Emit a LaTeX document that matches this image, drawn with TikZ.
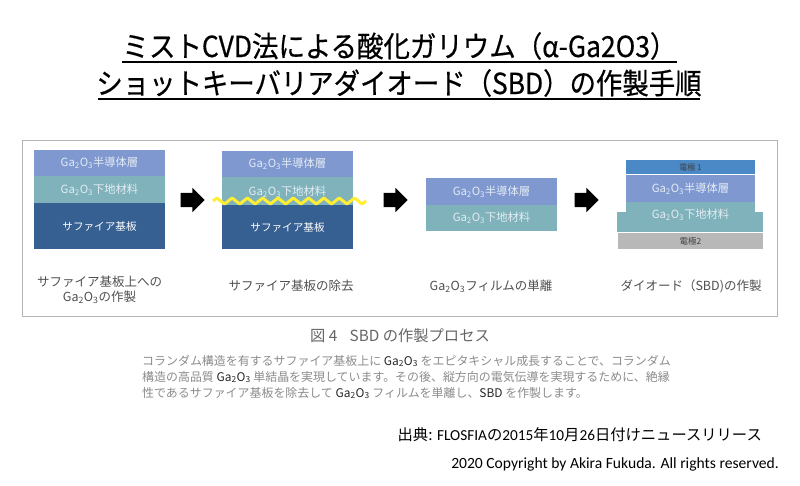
\documentclass[tikz,border=0pt]{standalone}
\usepackage{fontspec}
\setmainfont{Noto Sans CJK JP}
\newfontfamily\latinc{Carlito}
\newfontfamily\titlea[FakeStretch=0.912,FakeBold=0.5]{Noto Sans CJK JP}
\newfontfamily\titleb[FakeStretch=0.91,FakeBold=0.5]{Noto Sans CJK JP}
\usetikzlibrary{shapes.arrows,decorations.pathmorphing}
\definecolor{semic}{HTML}{7F98D0}
\definecolor{basec}{HTML}{7FB2BA}
\definecolor{sapc}{HTML}{365F92}
\definecolor{elaa}{HTML}{4A88C6}
\definecolor{elbb}{HTML}{B8B8B8}
\definecolor{framec}{HTML}{B4B4B4}
\definecolor{labc}{HTML}{E4ECF4}
\definecolor{capc}{HTML}{505050}
\definecolor{zigc}{HTML}{FFEE33}
\newcommand{\gao}{Ga\textsubscript{2}O\textsubscript{3}}
\tikzset{
  layer/.style={anchor=north west,inner sep=0pt,outer sep=0pt,minimum width=131pt,text=labc,font=\fontsize{11.3pt}{13pt}\selectfont},
  semilayer/.style={layer,fill=semic,minimum height=26pt},
  baselayer/.style={layer,fill=basec,minimum height=26pt},
  saplayer/.style={layer,fill=sapc,minimum height=46pt,text=white,font=\fontsize{10.6pt}{13pt}\selectfont},
  blockarrow/.style={single arrow,fill=black,inner xsep=0pt,inner ysep=7pt,minimum width=24pt,minimum height=24pt,single arrow head extend=5pt,single arrow head indent=0pt},
  captext/.style={text=capc,align=center,font=\fontsize{12.5pt}{15pt}\selectfont,inner sep=0pt},
  titletext/.style={anchor=center,inner sep=0pt,text=black},
  underl/.style={line width=1.6pt,black},
  bodytext/.style={anchor=west,inner sep=0pt,text=black!45,font=\fontsize{11.95pt}{13pt}\selectfont},
}
\begin{document}
\begin{tikzpicture}[x=1pt,y=-1pt]
\useasboundingbox (0,0) rectangle (800,486);
\fill[white] (0,0) rectangle (800,486);
% titles
\node[titletext,font=\titlea\fontsize{29pt}{34pt}\selectfont] (t1) at (399.5,46) {ミストCVD法による酸化ガリウム（α-Ga2O3）};
\node[titletext,font=\titleb\fontsize{29pt}{34pt}\selectfont] (t2) at (399,83) {ショットキーバリアダイオード（SBD）の作製手順};
\coordinate (t1a) at (122,62); \coordinate (t1b) at (677,62);
\coordinate (t2a) at (98,99); \coordinate (t2b) at (700,99);
\draw[underl] (t1a) -- (t1b);
\draw[underl] (t2a) -- (t2b);
% frame
\node[draw=framec,line width=1.4pt,minimum width=755pt,minimum height=176pt,anchor=north west,inner sep=0pt] (frame) at (22,140) {};
% stack 1
\node[semilayer] (a1) at (34,150) {\gao 半導体層};
\node[baselayer,minimum height=26.5pt] (a2) at (34,176.5) {\gao 下地材料};
\node[saplayer] (a3) at (34,203) {サファイア基板};
% stack 2
\node[semilayer] (b1) at (222,151) {\gao 半導体層};
\node[baselayer,minimum height=28pt] (b2) at (222,177.5) {\gao 下地材料};
\node[saplayer,minimum height=44pt] (b3) at (222,205) {サファイア基板};
\coordinate (zl) at (213,201);
\coordinate (zr) at (366,201);
\draw[zigc,line width=3pt,line join=round,decorate,decoration={zigzag,segment length=15.3pt,amplitude=3pt}] (zl) -- (zr);
% stack 3
\node[semilayer,minimum height=27pt] (c1) at (426,178) {\gao 半導体層};
\node[baselayer] (c2) at (426,205) {\gao 下地材料};
% stack 4
\node[layer,fill=elaa,minimum width=129pt,minimum height=14pt,text=black!75,font=\fontsize{8pt}{10pt}\selectfont] (d0) at (626,160) {電極 1};
\node[layer,fill=basec,minimum width=146pt,minimum height=20pt] (d2w) at (617,212) {};
\node[semilayer,minimum width=129pt,minimum height=27pt] (d1) at (626,175.5) {\gao 半導体層};
\node[baselayer,minimum width=129pt,minimum height=24pt] (d2) at (626,202.5) {\gao 下地材料};
\node[layer,fill=elbb,minimum width=145pt,minimum height=16pt,text=black!75,font=\fontsize{8.5pt}{10pt}\selectfont] (d3) at (618,233) {電極2};
% arrows
\node[blockarrow] (r1) at (189,200) {};
\node[blockarrow] (r2) at (392,200) {};
\node[blockarrow] (r3) at (583,200) {};
% captions
\node[captext] (ca) at (99.5,290) {サファイア基板上への\\\gao の作製};
\node[captext] (cb) at (291,286) {サファイア基板の除去};
\node[captext] (cc) at (491,286) {\gao フィルムの単離};
\node[captext] (cd) at (691,286) {ダイオード（SBD)の作製};
% figure caption and body
\node[anchor=west,inner sep=0pt,text=black!60,font=\fontsize{15.3pt}{17pt}\selectfont] (figcap) at (310,336) {図 4\hspace{0.8em}SBD の作製プロセス};
\node[bodytext] (l1) at (142,361) {コランダム構造を有するサファイア基板上に {\color{black!85}\gao} をエピタキシャル成長することで、コランダム};
\node[bodytext] (l2) at (142,377) {構造の高品質 {\color{black!85}\gao} 単結晶を実現しています。その後、縦方向の電気伝導を実現するために、絶縁};
\node[bodytext] (l3) at (142,393) {性であるサファイア基板を除去して {\color{black!85}\gao} フィルムを単離し、{\color{black!85}SBD} を作製します。};
% credits
\node[anchor=east,inner sep=0pt,text=black,font=\fontsize{15.3pt}{17pt}\selectfont] (src) at (762,435) {出典: {\latinc FLOSFIA}の{\latinc 2015}年{\latinc 10}月{\latinc 26}日付けニュースリリース};
\node[anchor=east,inner sep=0pt,text=black,font=\latinc\fontsize{15.6pt}{17pt}\selectfont] (copy) at (779,464) {2020 Copyright by Akira Fukuda. All rights reserved.};
\end{tikzpicture}
\end{document}
